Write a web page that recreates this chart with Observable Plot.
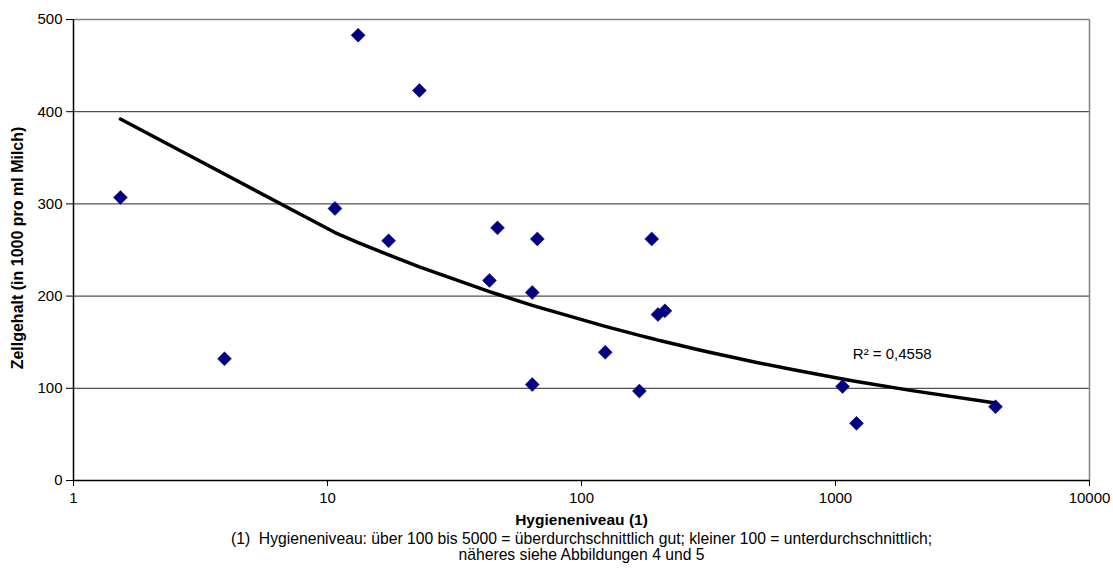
<!DOCTYPE html>
<html>
<head>
<meta charset="utf-8">
<script src="https://cdn.jsdelivr.net/npm/d3@7"></script>
<script src="https://cdn.jsdelivr.net/npm/@observablehq/plot@0.6"></script>
<style>
  html, body { margin: 0; padding: 0; background: #fff; }
  #chart svg { display: block; font-family: "Liberation Sans", Arial, sans-serif; }
</style>
</head>
<body>
<div id="chart"></div>
<script>
// Scatter data (Hygieneniveau, Zellgehalt)
const hygiene = [1.53, 3.93, 10.7, 13.2, 17.4, 23, 43.4, 46.7, 64, 64, 67, 124, 169, 189, 200, 213, 1066, 1210, 4266];
const cells   = [307, 132, 295, 483, 260, 423, 217, 274, 204, 104, 262, 139, 97, 262, 180, 184, 102, 62, 80];

// Trend line at points along it
const trendX = [1.53, 10.7, 13.2, 17.4, 23, 43.4, 46.7, 64, 67, 124, 169, 189, 200, 213, 300, 500, 700, 1066, 1210, 2000, 4266];
const trendY = [392, 268.9, 258.1, 244.7, 231.8, 204.9, 202.0, 190.0, 188.3, 167.2, 157.4, 154.0, 152.3, 150.5, 140.8, 127.5, 119.5, 110.1, 107.4, 97.5, 84.1];

const xTicks = [1, 10, 100, 1000, 10000];
const yTicks = [0, 100, 200, 300, 400, 500];
const gridLines = [100, 200, 300, 400];

const xTitle = "Hygieneniveau (1)";
const yTitle = "Zellgehalt (in 1000 pro ml Milch)";
const r2Label = "R² = 0,4558";
const captionLine1 = "(1)  Hygieneniveau: über 100 bis 5000 = überdurchschnittlich gut; kleiner 100 = unterdurchschnittlich;";
const captionLine2 = "näheres siehe Abbildungen 4 und 5";

const points = hygiene.map((x, i) => ({x, y: cells[i]}));
const trend = trendX.map((x, i) => ({x, y: trendY[i]}));

const chart = Plot.plot({
  width: 1113,
  height: 579,
  marginLeft: 73,
  marginRight: 24,
  marginTop: 19,
  marginBottom: 99,
  style: {fontFamily: "'Liberation Sans', Arial, sans-serif", fontSize: "15px", color: "#000", background: "#fff"},
  x: {type: "log", domain: [1, 10000]},
  y: {domain: [0, 500]},
  marks: [
    Plot.ruleY(gridLines, {stroke: "#000", strokeWidth: 1, strokeOpacity: 0.85}),
    Plot.ruleY([500], {stroke: "#808080", strokeWidth: 1.5}),
    Plot.ruleX([10000], {stroke: "#808080", strokeWidth: 1.5}),
    Plot.axisX({ticks: xTicks, tickFormat: d => String(d), tickSize: 6, tickPadding: 6, label: null, fontSize: 15, stroke: "#000"}),
    Plot.axisY({ticks: yTicks, tickFormat: d => String(d), tickSize: 7, tickPadding: 4, label: null, fontSize: 15, stroke: "#000"}),
    Plot.ruleY([0], {stroke: "#000", strokeWidth: 1.5}),
    Plot.ruleX([1], {stroke: "#000", strokeWidth: 1.5}),
    Plot.line(trend, {x: "x", y: "y", stroke: "#000", strokeWidth: 3.5, curve: "linear"}),
    Plot.dot(points, {x: "x", y: "y", symbol: "diamond2", r: 6.3, fill: "#000080", stroke: "#000080", strokeWidth: 0.5}),
    Plot.text([r2Label], {x: [1170], y: [137], text: d => d, textAnchor: "start", fontSize: 15}),
    Plot.text([xTitle], {frameAnchor: "bottom", dy: 44, text: d => d, fontWeight: "bold", fontSize: 15.5}),
    Plot.text([captionLine1], {frameAnchor: "bottom", dy: 63, text: d => d, fontSize: 15.7}),
    Plot.text([captionLine2], {frameAnchor: "bottom", dy: 79, text: d => d, fontSize: 15.7}),
    Plot.text([yTitle], {frameAnchor: "left", dx: -56, dy: -2, rotate: -90, textAnchor: "middle", text: d => d, fontWeight: "bold", fontSize: 16})
  ]
});
document.getElementById("chart").appendChild(chart);
</script>
</body>
</html>
